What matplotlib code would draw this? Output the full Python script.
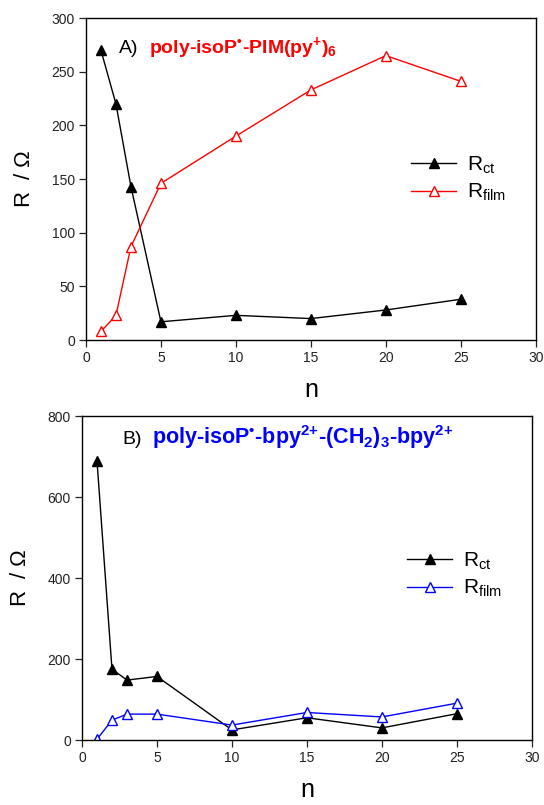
import numpy as np
import matplotlib
matplotlib.use('Agg')
import matplotlib.pyplot as plt

plt.rcParams['font.family'] = ['Liberation Sans', 'DejaVu Sans']
plt.rcParams['mathtext.fontset'] = 'custom'
plt.rcParams['mathtext.rm'] = 'Liberation Sans'
plt.rcParams['mathtext.it'] = 'Liberation Sans:italic'
plt.rcParams['mathtext.bf'] = 'Liberation Sans:bold'

# panel A data
n_a = [1, 2, 3, 5, 10, 15, 20, 25]
rct_a = [270, 220, 143, 17, 23, 20, 28, 38]
rfilm_a = [8, 23, 87, 146, 190, 233, 265, 241]

# panel B data
n_b = [1, 2, 3, 5, 10, 15, 20, 25]
rct_b = [690, 175, 148, 157, 25, 55, 30, 65]
rfilm_b = [2, 49, 64, 64, 37, 68, 57, 91]

fig = plt.figure(figsize=(5.44, 8.05), dpi=100)
ax1 = fig.add_axes([0.158, 0.5776, 0.827, 0.400])
ax2 = fig.add_axes([0.1507, 0.0807, 0.827, 0.4025])

dot = '\u2022'


def style(ax, ymax, ystep):
    ax.set_xlim(0, 30)
    ax.set_ylim(0, ymax)
    ax.set_xticks(np.arange(0, 31, 5))
    ax.set_yticks(np.arange(0, ymax + 1, ystep))
    ax.tick_params(direction='out', length=5, width=0.9, labelsize=10,
                   top=False, right=False, pad=3, colors='#222222')
    for s in ax.spines.values():
        s.set_linewidth(1.0)
    ax.set_xlabel('n', fontsize=18, labelpad=9)
    ax.set_ylabel(r'R  / $\Omega$', fontsize=16, labelpad=12)


# top panel
ax1.plot(n_a, rct_a, color='black', lw=1, marker='^', ms=7, mfc='black',
         mec='black', label=r'R$_{\mathrm{ct}}$')
ax1.plot(n_a, rfilm_a, color='red', lw=1, marker='^', ms=7, mfc='white',
         mec='red', mew=1, label=r'R$_{\mathrm{film}}$')
style(ax1, 300, 50)
ax1.text(0.073, 0.89, 'A)', transform=ax1.transAxes, fontsize=14)
ax1.text(0.14, 0.89,
         r'poly-isoP$^{\mathbf{' + dot + r'}}$-PIM(py$^{\mathbf{+}}$)$_{\mathbf{6}}$',
         transform=ax1.transAxes, fontsize=14, color='red', fontweight='bold')
ax1.legend(loc='center left', bbox_to_anchor=(0.68, 0.50), frameon=False,
           fontsize=15, handlelength=2.2, handletextpad=0.5, labelspacing=0.3)

# bottom panel
ax2.plot(n_b, rct_b, color='black', lw=1, marker='^', ms=7, mfc='black',
         mec='black', label=r'R$_{\mathrm{ct}}$')
ax2.plot(n_b, rfilm_b, color='blue', lw=1, marker='^', ms=7, mfc='white',
         mec='blue', mew=1, label=r'R$_{\mathrm{film}}$')
style(ax2, 800, 200)
ax2.text(0.089, 0.913, 'B)', transform=ax2.transAxes, fontsize=14)
ax2.text(0.156, 0.913,
         r'poly-isoP$^{\mathbf{' + dot + r'}}$-bpy$^{\mathbf{2}{\mathbf{+}}}$-(CH$_{\mathbf{2}}$)$_{\mathbf{3}}$-bpy$^{\mathbf{2}{\mathbf{+}}}$',
         transform=ax2.transAxes, fontsize=15.5, color='blue', fontweight='bold')
ax2.legend(loc='center left', bbox_to_anchor=(0.68, 0.51), frameon=False,
           fontsize=15, handlelength=2.2, handletextpad=0.5, labelspacing=0.3)

fig.savefig('out.png', dpi=100)
